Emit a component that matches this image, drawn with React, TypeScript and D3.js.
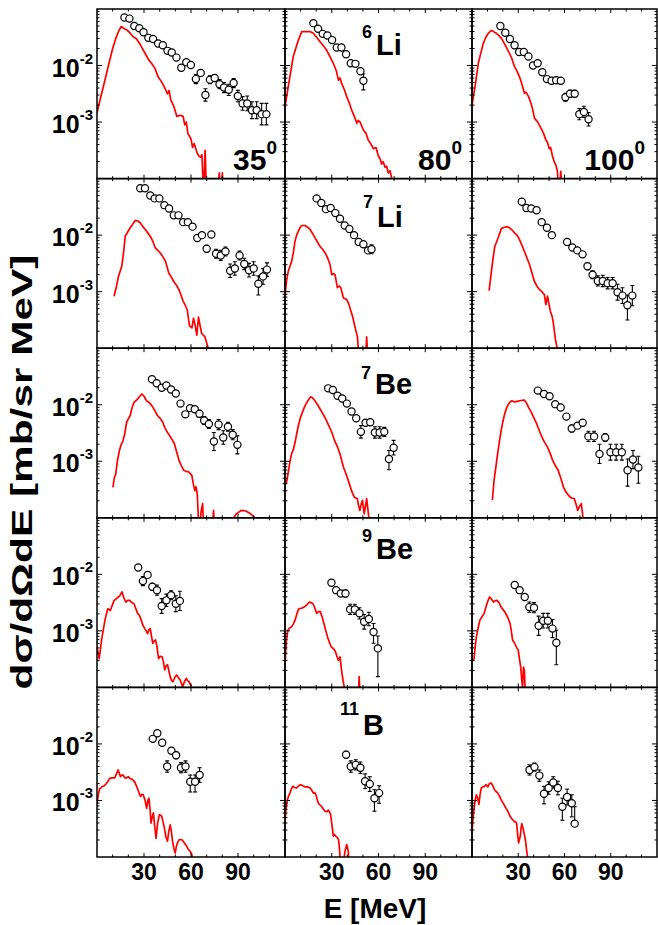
import React from "react";
import * as d3 from "d3";

// ---- labels ----
const angles = ["35", "80", "100"];
const massNumbers = ["6", "7", "7", "9", "11"];
const elements = ["Li", "Li", "Be", "Be", "B"];
const xTickValues = [30, 60, 90];
const yTickLabels: { exp: string; value: number }[] = [
  { exp: "-2", value: 1e-2 },
  { exp: "-3", value: 1e-3 },
];

// ---- data: [E (MeV), log10(dσ/dΩdE)] for model; [E, log10, errUp(dex), errDown(dex)] for experiment ----
type M = [number, number][];
type X = [number, number, number, number?][];

const li6_35_model: M = [[0,-2.84],[2,-2.6],[4,-2.38],[6,-2.15],[8,-1.92],[10,-1.7],[12,-1.52],[14,-1.38],[15.5,-1.31],[17,-1.34],[19,-1.37],[21,-1.42],[23,-1.49],[25,-1.52],[27,-1.6],[29,-1.7],[31,-1.8],[33,-1.9],[35,-1.97],[37,-2.05],[39,-2.2],[41,-2.28],[43,-2.38],[45,-2.5],[46,-2.44],[47,-2.6],[49,-2.72],[51,-2.9],[53,-2.88],[55,-2.9],[56,-3.05],[57,-3.0],[58,-3.2],[60,-3.3],[61,-3.45],[62,-3.38],[64,-3.55],[65,-3.6],[66,-3.62],[67,-3.58],[68,-4.3],[69,-3.5],[70,-4.3],[77,-4.3],[78,-3.9],[79,-4.3],[80,-3.9],[81,-4.3]];
const li6_35_exp: X = [[17.5,-1.15,.02],[20.7,-1.17,.02],[23.8,-1.30,.02],[27.0,-1.34,.02],[29.7,-1.41,.02],[32.8,-1.51,.02],[35.8,-1.53,.02],[39.0,-1.61,.02],[42.0,-1.64,.02],[45.0,-1.74,.03],[47.7,-1.77,.03],[50.7,-1.86,.03],[53.8,-2.04,.05],[57.0,-1.94,.04],[59.9,-1.99,.04],[63.1,-2.24,.08],[66.2,-2.13,.06],[69.2,-2.52,.11],[72.1,-2.25,.07],[75.1,-2.22,.06],[78.2,-2.33,.08],[81.1,-2.39,.09],[84.1,-2.43,.1],[87.2,-2.31,.08],[89.9,-2.54,.1],[92.9,-2.67,.12],[95.9,-2.67,.13],[98.9,-2.79,.15],[101.9,-2.79,.15],[105.1,-2.86,.19],[108.1,-2.86,.19]];

const li6_80_model: M = [[0,-2.73],[2.1,-2.37],[5.3,-1.84],[8.6,-1.55],[10.7,-1.40],[13,-1.40],[16,-1.40],[18.2,-1.43],[20.3,-1.5],[22.5,-1.58],[24.6,-1.65],[26.8,-1.73],[29,-1.85],[31,-1.96],[33,-2.1],[34.3,-2.26],[35.3,-2.22],[36.4,-2.32],[38,-2.42],[39.6,-2.55],[41.2,-2.66],[42.8,-2.79],[44.5,-2.9],[46.1,-3.02],[47,-2.97],[48.2,-3.0],[50.3,-3.14],[52,-3.2],[53.5,-3.32],[55,-3.38],[56.7,-3.47],[58.4,-3.45],[59.9,-3.6],[61,-3.65],[62,-3.74],[63,-3.7],[64.2,-3.8],[65.2,-3.78],[66.3,-3.9],[67.4,-3.86],[68.5,-4.0],[69.5,-4.3]];
const li6_80_exp: X = [[18.2,-1.25,.02],[21.2,-1.35,.02],[24.2,-1.44,.02],[27.2,-1.47,.02],[30.2,-1.55,.02],[33.2,-1.68,.02],[36.2,-1.68,.02],[39.2,-1.80,.02],[42.2,-1.96,.03],[45.2,-1.97,.03],[48.4,-2.10,.04],[50.3,-2.27,.12,.16]];

const li6_100_model: M = [[0,-2.7],[2,-2.37],[4.1,-1.96],[5.7,-1.78],[7.3,-1.61],[9,-1.5],[10.5,-1.43],[12.6,-1.38],[14,-1.4],[15.8,-1.43],[17.5,-1.47],[19.1,-1.52],[21.2,-1.62],[23.3,-1.73],[25.5,-1.85],[27.6,-2.02],[29.2,-2.1],[30.8,-2.2],[32.4,-2.33],[34,-2.49],[35,-2.47],[36.7,-2.55],[38.3,-2.67],[39.4,-2.78],[40.5,-2.93],[42.6,-3.0],[44.8,-3.11],[46.4,-3.2],[48,-3.32],[49,-3.36],[50.1,-3.47],[51,-3.45],[52.2,-3.6],[53.3,-3.7],[54.4,-3.76],[55.4,-3.87],[56.5,-4.3],[57.6,-3.87],[58.5,-4.3]];
const li6_100_exp: X = [[18.4,-1.30,.02],[21.6,-1.42,.02],[24.6,-1.53,.02],[27.6,-1.64,.02],[30.6,-1.76,.02],[33.6,-1.76,.02],[36.6,-1.84,.02],[39.6,-2.0,.02],[42.6,-1.96,.02],[45.6,-2.12,.03],[48.6,-2.24,.04],[51.6,-2.27,.05],[54.6,-2.26,.05],[57.6,-2.27,.05],[60.6,-2.56,.07],[63.6,-2.50,.06],[66.6,-2.50,.06],[69.6,-2.86,.1],[72.6,-2.82,.1],[75.6,-2.95,.12]];

const li7_35_model: M = [[10.9,-3.08],[12.5,-2.9],[13.7,-2.73],[15.8,-2.55],[17,-2.3],[18,-2.02],[19.5,-1.95],[21.2,-1.87],[23,-1.8],[24.4,-1.74],[26,-1.75],[27.6,-1.78],[29,-1.84],[30.8,-1.9],[32.4,-1.96],[34,-2.02],[35.5,-2.1],[37.3,-2.23],[38.8,-2.27],[40.5,-2.32],[42,-2.38],[43.7,-2.46],[45.8,-2.67],[47.4,-2.74],[49,-2.82],[50.6,-2.88],[52.2,-2.96],[53.6,-3.06],[55,-3.17],[56.3,-3.24],[57.6,-3.32],[59,-3.6],[60.6,-3.64],[61.6,-3.47],[62.7,-3.6],[63.7,-3.77],[64.8,-3.45],[65.8,-3.6],[66.8,-3.74],[68.9,-3.8],[71,-4.0],[72,-4.3]];
const li7_35_exp: X = [[27.6,-1.17,.02],[30.6,-1.17,.02],[34,-1.30,.02],[36.8,-1.35,.02],[39.8,-1.35,.02],[43,-1.47,.02],[46,-1.53,.02],[49,-1.65,.02],[52,-1.65,.02],[55,-1.77,.02],[58,-1.77,.02],[61,-1.85,.03],[64,-2.05,.05],[67,-2.00,.04],[70,-2.24,.06],[73,-1.99,.04],[76,-2.33,.08],[79,-2.36,.09],[82,-2.29,.08],[85,-2.63,.12],[88,-2.59,.12],[91,-2.36,.08],[94,-2.51,.1],[97,-2.62,.12],[100,-2.59,.12],[103,-2.86,.14,.2],[106,-2.73,.14],[108.5,-2.61,.12]];

const li7_80_model: M = [[0,-3.08],[1,-2.8],[2.1,-2.64],[3.2,-2.55],[4.3,-2.46],[5.4,-2.3],[6.4,-2.11],[7.5,-2.0],[8.6,-1.93],[9.6,-1.87],[10.7,-1.83],[12.8,-1.83],[14.5,-1.86],[16.1,-1.9],[17.7,-1.97],[19.3,-2.05],[21,-2.13],[22.5,-2.2],[24.1,-2.25],[25.7,-2.31],[27.3,-2.4],[28.9,-2.52],[30,-2.7],[31,-2.68],[32.1,-2.70],[33.6,-2.93],[34.7,-2.9],[35.8,-2.93],[37.5,-3.11],[39.6,-3.14],[41,-3.22],[42.2,-3.34],[43.3,-3.43],[44.3,-3.55],[45.4,-3.68],[46.5,-3.8],[47,-4.0],[48,-4.3],[51.5,-4.3],[52.4,-3.8],[53.4,-4.3]];
const li7_80_exp: X = [[20.3,-1.35,.02],[23.3,-1.43,.02],[26.3,-1.54,.02],[29.3,-1.52,.02],[32.3,-1.61,.02],[35.3,-1.71,.02],[38.3,-1.83,.02],[41.3,-1.89,.02],[44.3,-2.0,.02],[47.3,-2.12,.03],[50.3,-2.16,.03],[53.3,-2.27,.05],[55.5,-2.25,.08]];

const li7_100_model: M = [[11.1,-2.98],[12.6,-2.64],[13.7,-2.4],[14.8,-2.20],[16.9,-2.05],[19.1,-1.88],[21.2,-1.86],[22.8,-1.85],[24.4,-1.87],[26,-1.91],[27.6,-1.96],[29.2,-2.0],[30.8,-2.08],[32.4,-2.18],[34,-2.29],[35.6,-2.4],[37.3,-2.52],[38.9,-2.67],[40.5,-2.82],[42.1,-2.9],[43.7,-2.96],[45.3,-3.0],[46.9,-3.05],[47.9,-3.23],[49,-3.08],[50.1,-3.25],[50.9,-3.35],[51.8,-3.42],[52.6,-3.52],[54.1,-3.84],[55.2,-4.0],[56,-4.3]];
const li7_100_exp: X = [[32.3,-1.41,.02],[35.3,-1.52,.02],[38.5,-1.53,.02],[41.9,-1.56,.02],[45.2,-1.77,.02],[48.6,-1.87,.02],[51.8,-2.0,.02],[61.7,-2.12,.02],[65.1,-2.22,.03],[68.3,-2.27,.04],[71.7,-2.34,.05],[74.9,-2.55,.06],[78.2,-2.70,.07],[81.6,-2.81,.09],[84.8,-2.81,.1],[88,-2.85,.1],[91.2,-2.85,.1],[94.4,-3.01,.14],[97.6,-3.07,.14],[100.8,-3.24,.18,.26],[104,-3.07,.18]];

const be7_35_model: M = [[10.2,-3.46],[11,-3.3],[12,-3.22],[13,-3.0],[14.3,-2.81],[15.5,-2.7],[16.6,-2.64],[17.8,-2.5],[18.9,-2.31],[20,-2.25],[21.2,-2.19],[22.4,-2.05],[23.6,-1.96],[24.7,-1.93],[25.9,-1.90],[27.3,-1.85],[28.6,-1.81],[30,-1.85],[31.6,-1.93],[33.3,-1.96],[35.1,-2.02],[36.8,-2.1],[38.6,-2.19],[40.3,-2.24],[42,-2.31],[43.2,-2.4],[44.3,-2.46],[45.7,-2.52],[47.1,-2.58],[48.2,-2.63],[49.4,-2.69],[51,-2.85],[52.4,-2.99],[53.9,-3.08],[55.4,-3.16],[57,-3.18],[58.7,-3.19],[60.5,-3.25],[61.5,-3.4],[62.4,-3.52],[63.2,-3.45],[64,-3.58],[65.2,-4.3],[66.4,-3.9],[67.4,-3.75],[68.3,-4.3],[73.2,-4.3],[74.4,-3.87],[75.5,-4.3],[84,-4.3],[86,-4.05],[89,-3.93],[92,-3.87],[95,-3.88],[98,-3.93],[101,-4.0],[103,-4.3]];
const be7_35_exp: X = [[35.1,-1.55,.02],[38.1,-1.62,.02],[41.3,-1.70,.02],[44.3,-1.66,.02],[47.3,-1.73,.02],[50.3,-1.80,.02],[53.3,-1.98,.03],[56.4,-2.17,.05],[59.4,-2.06,.04],[62.4,-2.08,.05],[65.4,-2.16,.06],[68.4,-2.28,.07],[71.4,-2.34,.08],[74.6,-2.65,.16],[77.6,-2.35,.09],[80.6,-2.58,.12],[83.6,-2.39,.08],[86.6,-2.53,.09],[89.6,-2.71,.16]];

const be7_80_model: M = [[0.7,-3.40],[1.5,-3.3],[2.3,-3.16],[3.2,-3.0],[4.2,-2.87],[5.3,-2.8],[6.5,-2.66],[7.6,-2.5],[8.8,-2.34],[10,-2.22],[11.1,-2.14],[12.2,-2.06],[13.4,-1.99],[14.9,-1.92],[16.4,-1.86],[17.8,-1.88],[19.2,-1.93],[20.9,-2.0],[22.6,-2.08],[24.3,-2.16],[26.1,-2.25],[27.8,-2.35],[29.6,-2.46],[30.8,-2.55],[31.9,-2.64],[33.6,-2.74],[35.3,-2.87],[36.5,-3.0],[37.6,-3.11],[38.8,-3.2],[39.9,-3.28],[41.3,-3.4],[42.7,-3.52],[43.6,-3.58],[44.6,-3.64],[46.4,-3.66],[47.2,-3.78],[48,-3.87],[49,-3.75],[49.7,-3.69],[50.8,-3.93],[51.6,-3.8],[52.4,-3.66],[53.8,-4.0],[54.5,-4.3]];
const be7_80_exp: X = [[27.7,-1.71,.02],[30.7,-1.74,.02],[33.7,-1.84,.02],[36.7,-1.89,.02],[39.7,-1.98,.02],[42.7,-2.12,.03],[45.7,-2.24,.04],[48.7,-2.48,.11],[51.7,-2.32,.05],[54.7,-2.31,.05],[57.7,-2.49,.1],[60.7,-2.49,.1],[63.7,-2.48,.08],[66.7,-2.96,.15,.19],[69.7,-2.76,.13]];

const be7_100_model: M = [[13.2,-3.69],[14.3,-3.34],[15.5,-3.1],[16.6,-2.87],[17.8,-2.65],[18.9,-2.46],[20,-2.3],[21.2,-2.16],[22.4,-2.06],[23.6,-1.99],[24.7,-1.95],[25.9,-1.93],[27.6,-1.95],[29.3,-1.94],[31,-1.93],[32.8,-1.92],[34,-1.92],[35.1,-1.96],[36.8,-2.05],[38.6,-2.14],[40.3,-2.24],[42,-2.34],[43.7,-2.46],[45.5,-2.58],[47.2,-2.67],[49,-2.75],[50.7,-2.86],[52.4,-2.99],[54.1,-3.08],[55.9,-3.16],[57.6,-3.3],[59.4,-3.46],[61.1,-3.55],[62.8,-3.61],[64.5,-3.65],[66.3,-3.66],[67.4,-3.75],[68.6,-3.87],[69.7,-3.8],[70.9,-3.75],[72,-4.0],[72.8,-4.3]];
const be7_100_exp: X = [[42.7,-1.75,.02],[46.7,-1.81,.02],[50.3,-1.85,.02],[54.0,-1.99,.02],[57.5,-2.05,.02],[61.2,-2.21,.03],[64.7,-2.42,.06],[68.4,-2.37,.05],[71.8,-2.32,.05],[75.5,-2.56,.09],[79.2,-2.56,.09],[82.7,-2.87,.17],[86.4,-2.58,.07],[89.8,-2.84,.14],[93.5,-2.84,.14],[97.2,-2.84,.14],[100.9,-3.16,.2,.28],[104.4,-2.97,.16],[107.9,-3.11,.2,.28]];

const be9_35_model: M = [[0,-3.28],[1.4,-3.49],[2.3,-3.3],[3.2,-3.11],[4.2,-2.95],[5.1,-2.81],[6,-2.7],[6.9,-2.61],[8.5,-2.64],[9.7,-2.55],[10.9,-2.46],[12,-2.44],[13.2,-2.41],[14.5,-2.38],[15.9,-2.31],[17.2,-2.42],[18.5,-2.49],[19.6,-2.46],[20.8,-2.46],[22.2,-2.5],[23.6,-2.52],[24.7,-2.6],[25.9,-2.69],[27,-2.72],[28.2,-2.81],[29.3,-2.9],[30.5,-2.96],[31.4,-3.0],[32.3,-3.05],[33.1,-2.98],[34,-2.96],[34.8,-3.1],[35.6,-3.22],[36.5,-3.18],[37.4,-3.16],[38.4,-3.3],[39.3,-3.49],[40.4,-3.45],[41.6,-3.46],[42.4,-3.55],[43.2,-3.69],[44.1,-3.62],[45,-3.60],[45.8,-3.7],[46.7,-3.81],[47.6,-3.88],[48.5,-3.9],[49.7,-3.82],[50.8,-3.78],[52,-3.83],[53.1,-3.87],[54.7,-3.99],[55.8,-3.9],[57,-3.84],[57.9,-3.88],[58.7,-3.9],[60.5,-4.0],[61.5,-4.3]];
const be9_35_exp: X = [[26.3,-1.88,.03],[29.3,-2.12,.08],[32.3,-2.01,.04],[35.3,-2.22,.06],[38.3,-2.28,.09],[41.3,-2.56,.13],[44.3,-2.46,.11],[47.3,-2.37,.08],[50.3,-2.52,.14],[52.9,-2.47,.17]];

const be9_80_model: M = [[0.2,-3.52],[0.8,-3.2],[1.8,-2.99],[3,-2.95],[4.2,-2.93],[5.3,-2.88],[6.5,-2.81],[7.6,-2.7],[8.8,-2.61],[10.5,-2.6],[12.2,-2.58],[14,-2.54],[15.7,-2.49],[16.8,-2.5],[18,-2.52],[19.2,-2.6],[20.3,-2.69],[21.5,-2.66],[22.6,-2.66],[23.8,-2.75],[25,-2.87],[26.2,-3.0],[27.3,-3.11],[28.5,-3.2],[29.6,-3.28],[30.8,-3.31],[31.9,-3.34],[33,-3.42],[34.2,-3.52],[35.3,-3.46],[36.3,-3.7],[37.2,-3.87],[38.1,-4.0],[39,-4.3],[46.8,-4.3],[47.6,-3.81],[48.4,-4.3]];
const be9_80_exp: X = [[29.8,-2.15,.04],[32.8,-2.28,.05],[35.8,-2.34,.05],[38.8,-2.34,.06],[41.8,-2.62,.09],[44.8,-2.62,.09],[47.8,-2.69,.1],[50.8,-2.84,.13],[53.8,-2.79,.12],[56.8,-3.02,.15,.2],[59.6,-3.31,.22,.5]];

const be9_100_model: M = [[1.2,-3.52],[2,-3.3],[2.8,-3.11],[4,-2.95],[5.1,-2.81],[6.5,-2.75],[7.9,-2.69],[8.8,-2.6],[9.7,-2.52],[10.6,-2.45],[11.5,-2.40],[12.7,-2.44],[13.9,-2.49],[15,-2.47],[16.2,-2.46],[17.5,-2.5],[18.9,-2.58],[20,-2.62],[21.2,-2.66],[23,-2.75],[24.7,-2.87],[25.5,-3.0],[26.3,-3.16],[27.3,-3.2],[28.2,-3.25],[29.1,-3.3],[30,-3.34],[30.8,-3.5],[31.6,-3.64],[32.2,-3.85],[32.8,-4.0],[33.4,-3.64],[34,-3.7],[34.8,-4.3]];
const be9_100_exp: X = [[27.7,-2.19,.03],[30.9,-2.28,.04],[34.2,-2.40,.05],[37.2,-2.58,.09],[40.2,-2.59,.09],[43.2,-2.91,.17],[46.2,-2.82,.13],[49.2,-2.82,.13],[52.2,-2.96,.16],[54.7,-3.21,.22,.39]];

const b11_35_model: M = [[0,-3.05],[0.8,-2.9],[1.7,-2.79],[2.5,-2.78],[3.4,-2.75],[4.7,-2.74],[6,-2.70],[7,-2.66],[8.1,-2.61],[9.7,-2.6],[11.3,-2.60],[12.4,-2.53],[13.5,-2.46],[14.2,-2.52],[15,-2.58],[15.8,-2.55],[16.7,-2.55],[17.7,-2.6],[18.8,-2.60],[19.9,-2.58],[21,-2.61],[22,-2.62],[23.1,-2.64],[24.2,-2.68],[25.3,-2.75],[26.3,-2.82],[27,-2.88],[27.8,-2.93],[28.6,-2.89],[29.5,-2.90],[30.6,-2.99],[31.7,-3.14],[32.5,-3.0],[33.2,-2.96],[34,-3.2],[34.5,-3.40],[35.2,-3.3],[36,-3.22],[36.8,-3.45],[37.7,-3.67],[38.7,-3.4],[39.8,-3.25],[40.5,-3.26],[41.3,-3.28],[42.1,-3.37],[42.8,-3.46],[44,-3.65],[45,-3.72],[45.8,-3.55],[46.7,-3.43],[47.5,-3.55],[48.2,-3.72],[49.1,-3.85],[49.9,-3.93],[50.6,-3.82],[51.4,-3.75],[52.3,-3.7],[53.1,-3.69],[54.4,-3.7],[55.7,-3.75],[57,-3.8],[58.4,-3.87],[59.5,-3.9],[60.6,-3.96],[61.5,-4.3]];
const b11_35_exp: X = [[35.6,-1.91,.03],[38.5,-1.81,.03],[41.6,-1.98,.04],[44.8,-2.40,.1],[47.5,-2.12,.05],[50.5,-2.20,.06],[53.6,-2.42,.09],[56.5,-2.40,.1],[59.5,-2.67,.12,.18],[62.6,-2.67,.12,.18],[65.5,-2.55,.13]];

const b11_80_model: M = [[0,-3.37],[0.7,-3.15],[1.5,-2.99],[2.3,-2.92],[3.2,-2.87],[4,-2.8],[4.9,-2.75],[6.2,-2.77],[7.5,-2.78],[8.7,-2.74],[10,-2.72],[11.4,-2.74],[12.8,-2.76],[14.4,-2.76],[16.1,-2.78],[17.2,-2.82],[18.2,-2.87],[19.1,-2.86],[19.9,-2.90],[20.6,-2.98],[21.4,-3.05],[22.5,-3.08],[23.6,-3.11],[24.6,-3.15],[25.7,-3.19],[26.7,-3.2],[27.8,-3.17],[28.5,-3.2],[29.3,-3.25],[30.2,-3.45],[31,-3.63],[31.7,-3.6],[32.5,-3.63],[33.4,-3.65],[34.3,-3.69],[34.8,-3.8],[35.3,-3.99],[36.5,-4.3],[38.5,-3.9],[39.6,-3.78],[40.6,-3.9],[41.5,-4.3]];
const b11_80_exp: X = [[39.2,-2.19,.06],[42.2,-2.40,.1],[45.4,-2.37,.09],[48.4,-2.42,.1],[51.4,-2.66,.13],[54.4,-2.71,.13],[57.4,-2.96,.15,.23],[60.4,-2.87,.13,.18]];

const b11_100_model: M = [[0,-3.55],[0.6,-3.35],[1.3,-3.16],[2,-3.0],[2.8,-2.90],[3.6,-2.95],[4.5,-3.07],[5.2,-2.9],[6,-2.78],[7,-2.76],[8.1,-2.75],[9.2,-2.72],[10.3,-2.76],[11.3,-2.7],[12.4,-2.69],[13.5,-2.74],[14.6,-2.81],[15.6,-2.84],[16.7,-2.87],[17.8,-2.92],[18.9,-2.99],[20.5,-3.06],[22.1,-3.14],[23.4,-3.2],[24.7,-3.28],[26,-3.33],[27.4,-3.37],[28.2,-3.38],[28.9,-3.40],[29.6,-3.6],[30.2,-3.75],[30.7,-3.7],[31.3,-3.63],[31.8,-3.5],[32.3,-3.41],[33,-3.48],[33.8,-3.58],[34.4,-3.66],[34.9,-3.75],[35.5,-3.9],[36,-3.99],[36.6,-4.3]];
const b11_100_exp: X = [[37.3,-2.46,.09],[40.5,-2.41,.07],[43.7,-2.56,.1],[46.7,-2.88,.13,.18],[49.7,-2.78,.11],[52.7,-2.68,.1],[55.7,-2.78,.12],[58.6,-3.11,.15,.24],[61.7,-2.94,.14],[64.7,-3.05,.15,.24],[66.6,-3.41,.3,0]];

const models: M[][] = [
  [li6_35_model, li6_80_model, li6_100_model],
  [li7_35_model, li7_80_model, li7_100_model],
  [be7_35_model, be7_80_model, be7_100_model],
  [be9_35_model, be9_80_model, be9_100_model],
  [b11_35_model, b11_80_model, b11_100_model],
];
const experiments: X[][] = [
  [li6_35_exp, li6_80_exp, li6_100_exp],
  [li7_35_exp, li7_80_exp, li7_100_exp],
  [be7_35_exp, be7_80_exp, be7_100_exp],
  [be9_35_exp, be9_80_exp, be9_100_exp],
  [b11_35_exp, b11_80_exp, b11_100_exp],
];

// ---- layout ----
const W = 658;
const H = 925;
const colLeft = [97, 285, 472];
const colRight = [285, 472, 657];
const rowTop0 = 9;
const rowH = 169.6;
const FONT = "'Liberation Sans', Arial, Helvetica, sans-serif";
const isoLabelX = [362, 363, 361, 362, 340];
const isoMassDy = [29, 29, 31, 24, 28];
const isoElemDy = [46, 48, 46, 41, 48];
const angleEndX = [277, 462, 645];

function Panel({ r, c }: { r: number; c: number }) {
  const top = rowTop0 + r * rowH;
  const bottom = top + rowH;
  const left = colLeft[c];
  const right = colRight[c];
  const x = d3.scaleLinear().domain([0, 120]).range([left, right]);
  const y = d3.scaleLog().domain([1e-4, 1e-1]).range([bottom, top]);
  const line = d3
    .line<[number, number]>()
    .x((d) => x(d[0]))
    .y((d) => y(Math.pow(10, d[1])));
  const id = `clip-${r}-${c}`;
  const minorY: number[] = [];
  [-4, -3, -2].forEach((k) => {
    for (let m = 2; m <= 9; m++) minorY.push(m * Math.pow(10, k));
  });
  const majorY = [1e-3, 1e-2];
  const xTicks = d3.range(10, 120, 10);
  const tickEls: React.ReactNode[] = [];
  minorY.forEach((v, i) => {
    const yy = y(v);
    tickEls.push(<line key={`yl${i}`} x1={left} x2={left + 2.5} y1={yy} y2={yy} />);
    tickEls.push(<line key={`yr${i}`} x1={right} x2={right - 2.5} y1={yy} y2={yy} />);
  });
  majorY.forEach((v, i) => {
    const yy = y(v);
    tickEls.push(<line key={`Yl${i}`} x1={left} x2={left + 5} y1={yy} y2={yy} />);
    tickEls.push(<line key={`Yr${i}`} x1={right} x2={right - 5} y1={yy} y2={yy} />);
  });
  xTicks.forEach((v, i) => {
    const xx = x(v);
    const len = v % 30 === 0 ? 4 : 2.5;
    tickEls.push(<line key={`xb${i}`} x1={xx} x2={xx} y1={bottom} y2={bottom - len} />);
    tickEls.push(<line key={`xt${i}`} x1={xx} x2={xx} y1={top} y2={top + len} />);
  });

  const exp = experiments[r][c];
  return (
    <g>
      <defs>
        <clipPath id={id}>
          <rect x={left} y={top} width={right - left} height={rowH} />
        </clipPath>
      </defs>
      <g clipPath={`url(#${id})`}>
        <path d={line(models[r][c]) || ""} fill="none" stroke="#ff0000" strokeWidth={1.7} strokeLinejoin="round" />
        <g stroke="#000" strokeWidth={1.1}>
          {exp.map((d, i) => {
            const up = d[2];
            const dn = d[3] === undefined ? d[2] : d[3];
            const cx = x(d[0]);
            const y1 = y(Math.pow(10, d[1] + up));
            const y2 = y(Math.pow(10, d[1] - dn));
            return (
              <g key={`e${i}`}>
                <line x1={cx} x2={cx} y1={y1} y2={y2} />
                <line x1={cx - 2} x2={cx + 2} y1={y1} y2={y1} />
                {dn > 0 && <line x1={cx - 2} x2={cx + 2} y1={y2} y2={y2} />}
              </g>
            );
          })}
        </g>
        {exp.map((d, i) => (
          <circle key={`c${i}`} cx={x(d[0])} cy={y(Math.pow(10, d[1]))} r={3.6} fill="#fff" stroke="#000" strokeWidth={1.2} />
        ))}
      </g>
      <g stroke="#000" strokeWidth={1}>{tickEls}</g>
      <rect x={left} y={top} width={right - left} height={rowH} fill="none" stroke="#000" strokeWidth={1.5} />
      {c === 0 &&
        yTickLabels.map((t) => (
          <text key={t.exp} x={93} y={y(t.value) + 11} textAnchor="end" fontFamily={FONT} fontWeight="bold" fontSize={25}>
            <tspan>10</tspan>
            <tspan dy={-13} fontSize={15}>{t.exp}</tspan>
          </text>
        ))}
      {r === 4 &&
        xTickValues.map((v) => (
          <text key={v} x={x(v)} y={880} textAnchor="middle" fontFamily={FONT} fontWeight="bold" fontSize={23}>
            {v}
          </text>
        ))}
      {c === 1 && (
        <text x={isoLabelX[r]} y={top + isoMassDy[r]} fontFamily={FONT} fontWeight="bold" fontSize={18}>
          <tspan>{massNumbers[r]}</tspan>
          <tspan dx={4} dy={isoElemDy[r] - isoMassDy[r]} fontSize={29}>{elements[r]}</tspan>
        </text>
      )}
      {r === 0 && (
        <text x={angleEndX[c]} y={top + 161} textAnchor="end" fontFamily={FONT} fontWeight="bold" fontSize={30}>
          <tspan>{angles[c]}</tspan>
          <tspan dy={-16} fontSize={19}>0</tspan>
        </text>
      )}
    </g>
  );
}

export default function App() {
  const cells: React.ReactNode[] = [];
  for (let r = 0; r < 5; r++) for (let c = 0; c < 3; c++) cells.push(<Panel key={`${r}-${c}`} r={r} c={c} />);
  return (
    <svg width={W} height={H} style={{ position: "absolute", left: 0, top: 0, background: "#fff" }}>
      <rect x={0} y={0} width={W} height={H} fill="#fff" />
      {cells}
      <text
        transform={`translate(32, 472) rotate(-90)`}
        textAnchor="middle"
        fontFamily={FONT}
        fontWeight="bold"
        fontSize={30}
        textLength={435}
        lengthAdjust="spacingAndGlyphs"
      >
        dσ/dΩdE [mb/sr MeV]
      </text>
      <text x={375} y={918} textAnchor="middle" fontFamily={FONT} fontWeight="bold" fontSize={28}>
        E [MeV]
      </text>
    </svg>
  );
}
